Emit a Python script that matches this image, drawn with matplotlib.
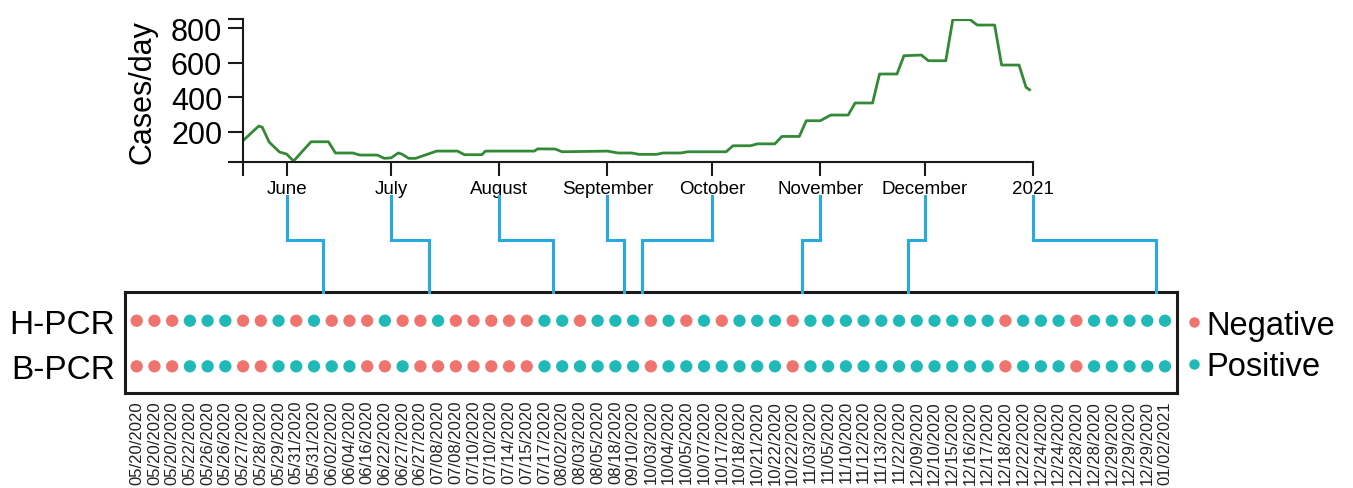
import datetime as dt

import matplotlib
matplotlib.use("Agg")
import matplotlib.pyplot as plt
import matplotlib.dates as mdates
from matplotlib.lines import Line2D
from matplotlib.transforms import blended_transform_factory

plt.rcParams["font.family"] = ["Liberation Sans", "DejaVu Sans"]

# ── Data ──────────────────────────────────────────────────────
# daily cases (key points only)
case_dates = [
    "2020-05-19", "2020-05-24", "2020-05-25", "2020-05-27", "2020-05-30",
    "2020-06-01", "2020-06-03", "2020-06-08", "2020-06-13", "2020-06-15",
    "2020-06-20", "2020-06-22", "2020-06-27", "2020-06-29", "2020-07-01",
    "2020-07-03", "2020-07-04", "2020-07-06", "2020-07-08", "2020-07-14",
    "2020-07-20", "2020-07-22", "2020-07-27", "2020-07-28", "2020-08-11",
    "2020-08-12", "2020-08-17", "2020-08-19", "2020-09-01", "2020-09-04",
    "2020-09-08", "2020-09-10", "2020-09-15", "2020-09-17", "2020-09-22",
    "2020-09-24", "2020-10-05", "2020-10-07", "2020-10-12", "2020-10-14",
    "2020-10-19", "2020-10-21", "2020-10-26", "2020-10-28", "2020-11-01",
    "2020-11-04", "2020-11-09", "2020-11-11", "2020-11-16", "2020-11-18",
    "2020-11-23", "2020-11-25", "2020-11-30", "2020-12-02", "2020-12-07",
    "2020-12-09", "2020-12-14", "2020-12-16", "2020-12-21", "2020-12-23",
    "2020-12-28", "2020-12-30", "2020-12-31",
]
case_values = [
    139, 233, 227, 140, 82,
    71, 30, 142, 142, 77,
    77, 65, 65, 46, 49,
    77, 71, 46, 46, 88,
    88, 67, 67, 88, 88,
    101, 100, 84, 88, 77,
    77, 69, 69, 77, 77,
    84, 84, 119, 119, 130,
    130, 173, 173, 264, 264,
    297, 297, 367, 367, 535,
    535, 641, 645, 612, 612,
    850, 850, 819, 819, 587,
    587, 458, 444,
]

month_ticks = ["2020-06-01", "2020-07-01", "2020-08-01", "2020-09-01",
               "2020-10-01", "2020-11-01", "2020-12-01", "2021-01-01"]
month_labels = ["June", "July", "August", "September",
                "October", "November", "December", "2021"]

sample_dates = [
    "05/20/2020", "05/20/2020", "05/20/2020", "05/22/2020", "05/26/2020",
    "05/26/2020", "05/27/2020", "05/28/2020", "05/29/2020", "05/31/2020",
    "05/31/2020", "06/02/2020", "06/04/2020", "06/16/2020", "06/22/2020",
    "06/27/2020", "06/27/2020", "07/08/2020", "07/08/2020", "07/10/2020",
    "07/10/2020", "07/14/2020", "07/15/2020", "07/17/2020", "08/02/2020",
    "08/03/2020", "08/05/2020", "08/18/2020", "09/10/2020", "10/03/2020",
    "10/04/2020", "10/05/2020", "10/07/2020", "10/17/2020", "10/18/2020",
    "10/21/2020", "10/22/2020", "10/22/2020", "11/03/2020", "11/05/2020",
    "11/10/2020", "11/12/2020", "11/13/2020", "11/22/2020", "12/09/2020",
    "12/10/2020", "12/15/2020", "12/16/2020", "12/17/2020", "12/18/2020",
    "12/22/2020", "12/24/2020", "12/24/2020", "12/28/2020", "12/28/2020",
    "12/29/2020", "12/29/2020", "12/29/2020", "01/02/2021",
]
# N = negative, P = positive (one letter per sample above)
h_pcr = ("NNNPPPNNPNPNNNPNNPNN"
         "NNNPPNPPPNPNPNPPPNPP"
         "PPPPPPPPPNPPPNPPPPP")
b_pcr = ("NNNPPPNNPPPPPNNPNNNN"
         "NNNPPPPPPNPPPPPPPNPP"
         "PPPPPPPPPNPPPNPPPPP")
rows = ["H-PCR", "B-PCR"]

# ── Style ─────────────────────────────────────────────────────
GREEN = "#338a36"
RED = "#f0736e"
TEAL = "#1fbab7"
BLUE = "#29a9e1"
INK = "#1a1a1a"

W, H = 1353, 489
fig = plt.figure(figsize=(W / 100, H / 100), dpi=100)
fig.patch.set_facecolor("white")

# ── Top: cases per day ────────────────────────────────────────
ax = fig.add_axes([243 / W, 1 - 163.3 / H, (1033 - 243) / W, (163.3 - 20) / H])
xs = [dt.datetime.strptime(d, "%Y-%m-%d") for d in case_dates]
ax.plot(xs, case_values, color=GREEN, lw=2.0, solid_joinstyle="round")

x0 = dt.datetime(2020, 5, 19, 12)
x1 = dt.datetime(2021, 1, 1)
ax.set_xlim(x0, x1)
ax.set_ylim(23, 854)
mt = [dt.datetime.strptime(d, "%Y-%m-%d") for d in month_ticks]
ax.set_xticks([x0] + mt)
ax.set_xticklabels([""] + month_labels, fontsize=13.5)
ax.set_yticks([23, 200, 400, 600, 800, 854])
ax.set_yticklabels(["", "200", "400", "600", "800", ""], fontsize=22)
ax.tick_params(axis="x", length=10, width=1.5, pad=3, colors=INK)
ax.tick_params(axis="y", length=11, width=1.5, pad=4, colors=INK)
ax.tick_params(axis="both", labelcolor="black")
for s in ("top", "right"):
    ax.spines[s].set_visible(False)
for s in ("left", "bottom"):
    ax.spines[s].set_linewidth(1.5)
    ax.spines[s].set_color(INK)
ax.set_ylabel("Cases/day", fontsize=22, labelpad=10)

# ── Bottom: PCR results strip ─────────────────────────────────
bx = fig.add_axes([125 / W, 1 - 394 / H, (1176.7 - 125) / W, (394 - 293) / H])
n = len(sample_dates)
idx = list(range(n))
for yrow, res in zip([1, 0], [h_pcr, b_pcr]):
    cols = [RED if r == "N" else TEAL for r in res]
    bx.scatter(idx, [yrow] * n, s=78, c=cols, linewidths=0, zorder=3)
bx.set_xlim(-0.66, n - 1 + 0.66)
bx.set_ylim(-0.585, 1.63)
bx.set_xticks(idx)
bx.set_xticklabels(sample_dates, rotation=90, fontsize=12, color="#222222")
bx.set_yticks([1, 0])
bx.set_yticklabels(rows, fontsize=24)
bx.tick_params(axis="both", length=0)
bx.tick_params(axis="x", pad=5)
bx.tick_params(axis="y", pad=7)
for s in bx.spines.values():
    s.set_linewidth(2.2)
    s.set_color(INK)

handles = [Line2D([], [], ls="", marker="o", ms=7.5, mec="none", mfc=c)
           for c in (RED, TEAL)]
bx.legend(handles, ["Negative", "Positive"], loc="center left",
          bbox_to_anchor=(1186 / W, 1 - 347 / H), bbox_transform=fig.transFigure,
          frameon=False, fontsize=23.5, handlelength=0.5, handletextpad=0.12,
          labelspacing=0.32, borderaxespad=0, borderpad=0)

# ── Connectors: month start on timeline -> first sample of month ──
parsed = [dt.datetime.strptime(d, "%m/%d/%Y") for d in sample_dates]
y_top, y_mid, y_bot = 1 - 197 / H, 1 - 241 / H, 1 - 293 / H
top_tr = blended_transform_factory(ax.transData, fig.transFigure)
bot_tr = blended_transform_factory(bx.transData, fig.transFigure)
to_fig = fig.transFigure.inverted()
for m in mt:
    first = next(i for i, d in enumerate(parsed) if d >= m)
    xa = to_fig.transform(top_tr.transform((mdates.date2num(m), y_top)))[0]
    xb = to_fig.transform(bot_tr.transform((first - 0.5, y_bot)))[0]
    fig.add_artist(Line2D([xa, xa, xb, xb], [y_top, y_mid, y_mid, y_bot],
                          transform=fig.transFigure, color=BLUE, lw=2.2,
                          solid_joinstyle="miter"))

fig.savefig("out.png", dpi=100, facecolor="white")
